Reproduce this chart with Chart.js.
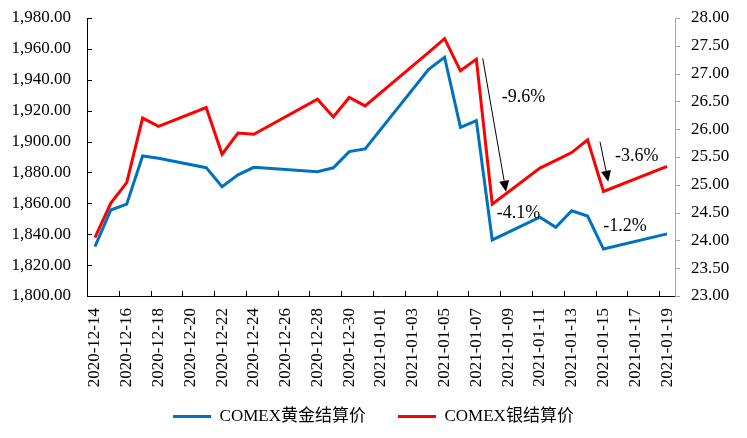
<!DOCTYPE html>
<html>
<head>
<meta charset="utf-8">
<script src="https://cdn.jsdelivr.net/npm/chart.js@4.4.1/dist/chart.umd.min.js"></script>
<style>
  html, body { margin: 0; padding: 0; background: #fff; }
</style>
</head>
<body>
<canvas id="priceChart" width="747" height="438"></canvas>
<script>
/* COMEX gold / silver settlement, 2020-12-14 .. 2021-01-19 */
const dates = [
  '2020-12-14', '2020-12-15', '2020-12-16', '2020-12-17', '2020-12-18', '2020-12-19', '2020-12-20',
  '2020-12-21', '2020-12-22', '2020-12-23', '2020-12-24', '2020-12-25', '2020-12-26', '2020-12-27',
  '2020-12-28', '2020-12-29', '2020-12-30', '2020-12-31', '2021-01-01', '2021-01-02', '2021-01-03',
  '2021-01-04', '2021-01-05', '2021-01-06', '2021-01-07', '2021-01-08', '2021-01-09', '2021-01-10',
  '2021-01-11', '2021-01-12', '2021-01-13', '2021-01-14', '2021-01-15', '2021-01-16', '2021-01-17',
  '2021-01-18', '2021-01-19'
];

// null = no settlement that day (weekend / holiday)
const goldSettle = [
  1832.0, 1855.7, 1859.5, 1890.7, 1889.2, null, null,
  1883.1, 1870.8, 1878.4, 1883.3, null, null, null,
  1880.5, 1883.0, 1893.5, 1895.2, null, null, null,
  1946.8, 1954.6, 1909.2, 1913.6, 1836.3, null, null,
  1851.0, 1844.5, 1855.2, 1851.8, 1830.4, null, null,
  null, 1840.2
];

const silverSettle = [
  24.05, 24.67, 25.04, 26.20, 26.05, null, null,
  26.39, 25.55, 25.93, 25.91, null, null, null,
  26.54, 26.22, 26.57, 26.42, null, null, null,
  27.38, 27.63, 27.05, 27.26, 24.65, null, null,
  25.30, 25.44, 25.58, 25.81, 24.88, null, null,
  null, 25.33
];

const seriesNames = ['COMEX黄金结算价', 'COMEX银结算价'];

// annotations, in (category index, silver-axis value)
const noteArrows = [
  { from: [24.40, 27.275], to: [25.87, 24.876] },
  { from: [31.78, 25.775], to: [32.30, 25.056] }
];
const noteTexts = [
  { text: '-9.6%', at: [25.60, 26.57] },
  { text: '-3.6%', at: [32.72, 25.52] },
  { text: '-4.1%', at: [25.28, 24.49] },
  { text: '-1.2%', at: [31.99, 24.25] }
];

const serif = "'Liberation Serif', 'Times New Roman', 'Noto Sans CJK SC', serif";
const BLUE = '#0070C0';
const RED = '#FF0000';

// inward tick marks like the spreadsheet original
const tickMarks = {
  id: 'tickMarks',
  afterDraw(chart) {
    const { ctx, chartArea: a, scales: { x, y, y1 } } = chart;
    ctx.save();
    ctx.lineWidth = 1;
    ctx.strokeStyle = '#000';
    ctx.beginPath();
    y.ticks.forEach(t => {
      const py = Math.round(y.getPixelForValue(t.value)) + 0.5;
      ctx.moveTo(a.left, py);
      ctx.lineTo(a.left + 5, py);
    });
    for (let i = 0; i < dates.length; i += 2) {
      const px = Math.round(x.getPixelForValue(i - 0.5)) + 0.5;
      ctx.moveTo(px, a.bottom);
      ctx.lineTo(px, a.bottom - 5);
    }
    ctx.stroke();
    ctx.strokeStyle = '#a6a6a6';
    ctx.beginPath();
    y1.ticks.forEach(t => {
      const py = Math.round(y1.getPixelForValue(t.value)) + 0.5;
      ctx.moveTo(a.right, py);
      ctx.lineTo(a.right + 5, py);
    });
    ctx.stroke();
    ctx.restore();
  }
};

const notes = {
  id: 'notes',
  afterDatasetsDraw(chart) {
    const { ctx, scales: { x, y1 } } = chart;
    ctx.save();
    ctx.strokeStyle = '#000';
    ctx.fillStyle = '#000';
    ctx.lineWidth = 1;
    noteArrows.forEach(n => {
      const x0 = x.getPixelForValue(n.from[0]), y0 = y1.getPixelForValue(n.from[1]);
      const x1 = x.getPixelForValue(n.to[0]),   yy = y1.getPixelForValue(n.to[1]);
      const ang = Math.atan2(yy - y0, x1 - x0);
      const len = 11, half = 5;
      const bx = x1 - len * Math.cos(ang), by = yy - len * Math.sin(ang);
      ctx.beginPath();
      ctx.moveTo(x0, y0);
      ctx.lineTo(bx, by);
      ctx.stroke();
      ctx.beginPath();
      ctx.moveTo(x1, yy);
      ctx.lineTo(bx + half * Math.sin(ang), by - half * Math.cos(ang));
      ctx.lineTo(bx - half * Math.sin(ang), by + half * Math.cos(ang));
      ctx.closePath();
      ctx.fill();
    });
    ctx.font = '18px ' + serif;
    ctx.textAlign = 'left';
    ctx.textBaseline = 'middle';
    noteTexts.forEach(n => {
      ctx.fillText(n.text, x.getPixelForValue(n.at[0]), y1.getPixelForValue(n.at[1]));
    });
    ctx.restore();
  }
};

// legend padding is wide for the gap between items; pull it back up
const legendLift = {
  id: 'legendLift',
  afterLayout(chart) {
    chart.legend.top -= 20;
    chart.legend.height += 20;
  }
};

const ctx = document.getElementById('priceChart').getContext('2d');
new Chart(ctx, {
  type: 'line',
  data: {
    labels: dates,
    datasets: [
      {
        label: seriesNames[0],
        data: goldSettle,
        yAxisID: 'y',
        borderColor: BLUE,
        backgroundColor: BLUE,
        borderWidth: 3,
        pointRadius: 0,
        tension: 0,
        spanGaps: true
      },
      {
        label: seriesNames[1],
        data: silverSettle,
        yAxisID: 'y1',
        borderColor: RED,
        backgroundColor: RED,
        borderWidth: 3,
        pointRadius: 0,
        tension: 0,
        spanGaps: true
      }
    ]
  },
  options: {
    responsive: false,
    animation: false,
    layout: { padding: { top: 18, left: 0, right: 0, bottom: 5 } },
    plugins: {
      tooltip: { enabled: false },
      legend: {
        position: 'bottom',
        maxHeight: 37,
        labels: {
          color: '#000',
          font: { family: serif, size: 17 },
          boxWidth: 38,
          boxHeight: 3,
          padding: 32,
          generateLabels: chart => Chart.defaults.plugins.legend.labels.generateLabels(chart)
            .map(l => ({ ...l, lineWidth: 0 }))
        }
      }
    },
    scales: {
      x: {
        offset: true,
        grid: { display: true, drawOnChartArea: false, drawTicks: false },
        border: { display: true, color: '#000', width: 1 },
        ticks: {
          autoSkip: false,
          minRotation: 90,
          maxRotation: 90,
          padding: 12,
          color: '#000',
          font: { family: serif, size: 17 },
          callback: (v, i) => i % 2 === 0 ? dates[i] : null
        },
        afterFit: s => { s.height = 100; s.paddingLeft = 0; s.paddingRight = 0; }
      },
      y: {
        position: 'left',
        min: 1800,
        max: 1980,
        grid: { display: true, drawOnChartArea: false, drawTicks: false },
        border: { display: true, color: '#000', width: 1 },
        ticks: {
          stepSize: 20,
          padding: 16,
          color: '#000',
          font: { family: serif, size: 17 },
          callback: v => v.toLocaleString('en-US', { minimumFractionDigits: 2, maximumFractionDigits: 2 })
        },
        afterFit: s => { s.width = 87; s.paddingTop = 0; s.paddingBottom = 0; }
      },
      y1: {
        position: 'right',
        min: 23,
        max: 28,
        grid: { display: true, drawOnChartArea: false, drawTicks: false },
        border: { display: true, color: '#a6a6a6', width: 1 },
        ticks: {
          stepSize: 0.5,
          padding: 16,
          color: '#000',
          font: { family: serif, size: 17 },
          callback: v => v.toFixed(2)
        },
        afterFit: s => { s.width = 72; s.paddingTop = 0; s.paddingBottom = 0; }
      }
    }
  },
  plugins: [tickMarks, notes, legendLift]
});
</script>
</body>
</html>
